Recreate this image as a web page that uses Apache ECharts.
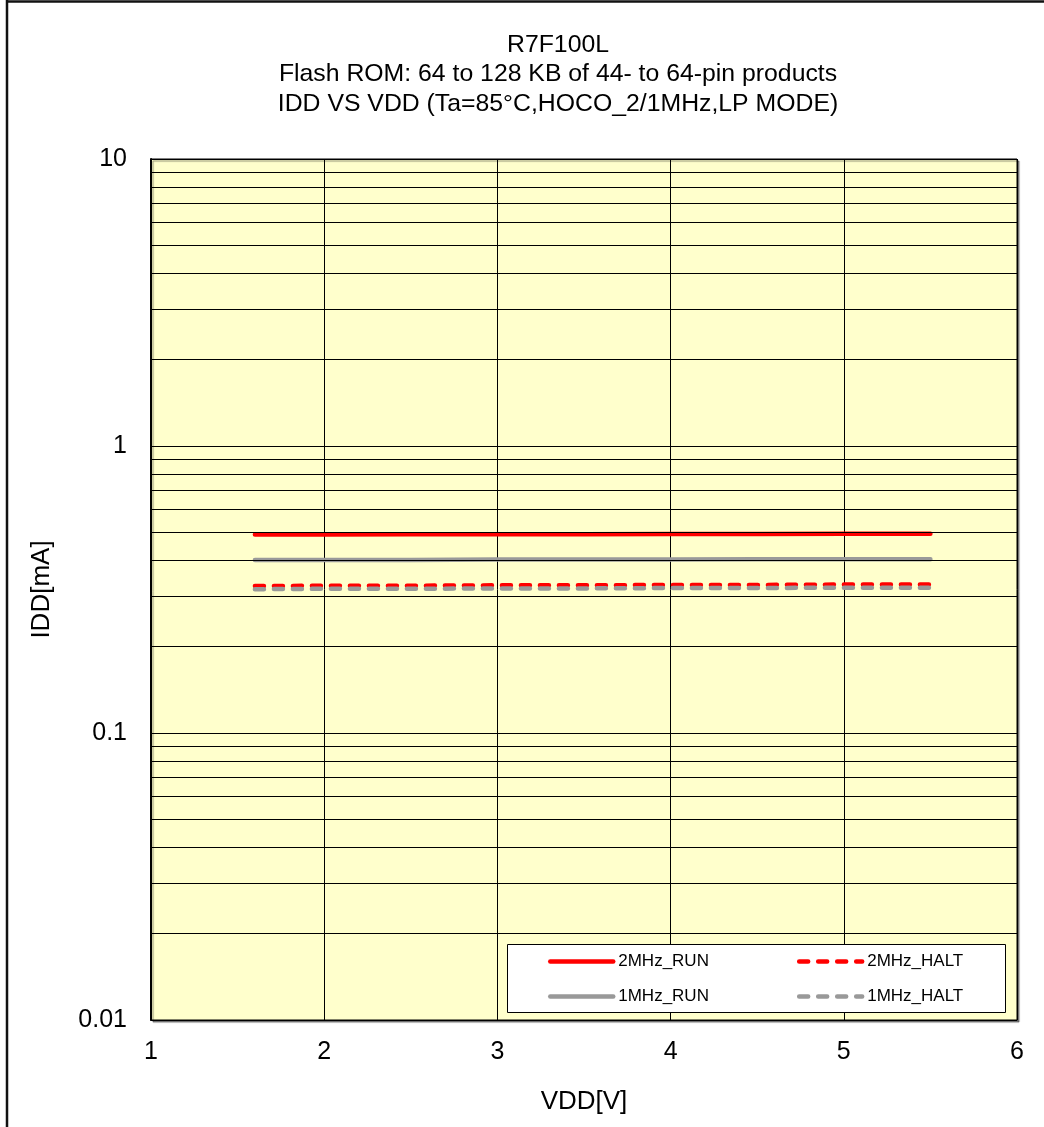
<!DOCTYPE html>
<html>
<head>
<meta charset="utf-8">
<script src="https://cdn.jsdelivr.net/npm/echarts@6/dist/echarts.min.js"></script>
<style>
html,body{margin:0;padding:0;background:#fff;}
#chart{width:1044px;height:1127px;}
</style>
</head>
<body>
<div id="chart"></div>
<script>
var vdd = [1.6, 2.0, 2.5, 3.0, 3.5, 4.0, 4.5, 5.0, 5.5];
var run2MHz  = [0.492, 0.492, 0.493, 0.493, 0.493, 0.494, 0.494, 0.495, 0.495];
var halt2MHz = [0.325, 0.326, 0.326, 0.327, 0.327, 0.328, 0.328, 0.329, 0.329];
var run1MHz  = [0.401, 0.401, 0.401, 0.402, 0.402, 0.402, 0.403, 0.403, 0.403];
var halt1MHz = [0.317, 0.318, 0.318, 0.319, 0.319, 0.320, 0.320, 0.321, 0.321];
var minorYTicks = [0.02,0.03,0.04,0.05,0.06,0.07,0.08,0.09,
                   0.2,0.3,0.4,0.5,0.6,0.7,0.8,0.9,
                   2,3,4,5,6,7,8,9];
var titleLines = ['R7F100L', 'Flash ROM: 64 to 128 KB of 44- to 64-pin products', 'IDD VS VDD (Ta=85°C,HOCO_2/1MHz,LP MODE)'];
var seriesNames = ['2MHz_RUN', '2MHz_HALT', '1MHz_RUN', '1MHz_HALT'];

function pairs(ys){ return vdd.map(function(x,i){ return [x, ys[i]]; }); }

var FONT = 'Liberation Sans, Arial, sans-serif';
var chart = echarts.init(document.getElementById('chart'), null, {renderer:'canvas'});
var dash = [9, 10];
var legendCommon = {
  orient: 'horizontal', left: 548, padding: 0, itemWidth: 63, itemHeight: 14, itemGap: 88,
  textStyle: {fontFamily: FONT, fontSize: 17, color: '#000', width: 90},
  itemStyle: {opacity: 0},
  lineStyle: {width: 4.5, cap: 'round'},
  selectedMode: false, z: 6
};
chart.setOption({
  animation: false,
  textStyle: {fontFamily: FONT},
  title: {
    text: titleLines.join('\n'), left: 553, top: 25, textAlign: 'center',
    textStyle: {fontFamily: FONT, fontSize: 24.8, fontWeight: 'normal', color: '#000', lineHeight: 29.5}
  },
  graphic: [
    {type: 'line', z: 10, shape: {x1: 7, y1: 0, x2: 7, y2: 1127}, style: {stroke: '#111', lineWidth: 2.5}},
    {type: 'line', z: 10, shape: {x1: 6, y1: 1.5, x2: 1044, y2: 1.5}, style: {stroke: '#111', lineWidth: 2.5}},
    {type: 'rect', z: 5, shape: {x: 507.5, y: 944.5, width: 498, height: 68}, style: {fill: '#fff', stroke: '#000', lineWidth: 1}}
  ],
  legend: [
    Object.assign({}, legendCommon, {top: 953, data: [seriesNames[0], seriesNames[1]]}),
    Object.assign({}, legendCommon, {top: 988, data: [seriesNames[2], seriesNames[3]]})
  ],
  grid: {
    left: 151, top: 159, width: 866, height: 861, show: true,
    backgroundColor: '#FFFFCC', borderColor: '#000', borderWidth: 1,
    shadowColor: 'rgba(0,0,0,0.45)', shadowOffsetX: 2, shadowOffsetY: 2, shadowBlur: 1
  },
  xAxis: {
    type: 'value', min: 1, max: 6, interval: 1,
    name: 'VDD[V]', nameLocation: 'middle', nameGap: 69,
    nameTextStyle: {fontFamily: FONT, fontSize: 26, color: '#000'},
    axisLine: {show: true, onZero: false, lineStyle: {color: '#000', width: 1}},
    axisTick: {show: false},
    axisLabel: {fontFamily: FONT, fontSize: 25, color: '#000', margin: 20},
    splitLine: {show: true, lineStyle: {color: '#000', width: 1}}
  },
  yAxis: {
    type: 'log', logBase: 10, min: 0.01, max: 10,
    name: 'IDD[mA]', nameLocation: 'middle', nameGap: 96,
    nameTextStyle: {fontFamily: FONT, fontSize: 26, color: '#000'},
    axisLine: {show: true, lineStyle: {color: '#000', width: 2}},
    axisTick: {show: false},
    axisLabel: {fontFamily: FONT, fontSize: 25, color: '#000', margin: 24,
      formatter: function(v){ return String(+v.toPrecision(6)); }},
    splitLine: {show: true, lineStyle: {color: '#000', width: 1}}
  },
  series: [
    {type: 'line', name: '_grid', data: [], silent: true, z: 1,
      markLine: {silent: true, symbol: 'none', label: {show: false}, animation: false,
        lineStyle: {color: '#000', width: 1, type: 'solid'},
        data: minorYTicks.map(function(v){ return {yAxis: v}; })}},
    {type: 'line', name: seriesNames[0], data: pairs(run2MHz), showSymbol: false, symbol: 'none', z: 3,
      color: '#FF0000', lineStyle: {color: '#FF0000', width: 4.5, cap: 'round'}},
    {type: 'line', name: seriesNames[1], data: pairs(halt2MHz), showSymbol: false, symbol: 'none', z: 3,
      color: '#FF0000', lineStyle: {color: '#FF0000', width: 4.5, type: dash, cap: 'round'}},
    {type: 'line', name: seriesNames[2], data: pairs(run1MHz), showSymbol: false, symbol: 'none', z: 3,
      color: '#999999', lineStyle: {color: '#999999', width: 4.5, cap: 'round'}},
    {type: 'line', name: seriesNames[3], data: pairs(halt1MHz), showSymbol: false, symbol: 'none', z: 3,
      color: '#999999', lineStyle: {color: '#999999', width: 4.5, type: dash, cap: 'round'}}
  ]
});
</script>
</body>
</html>
